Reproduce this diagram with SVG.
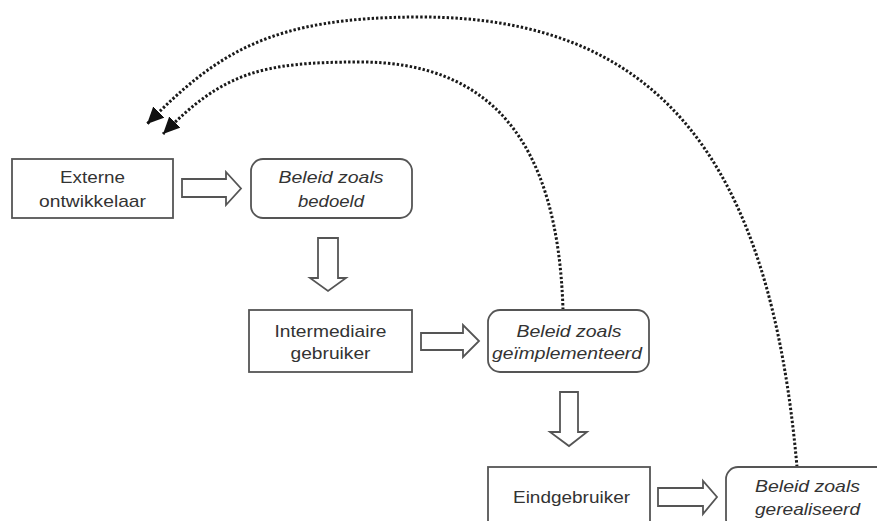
<svg xmlns="http://www.w3.org/2000/svg" width="877" height="521" viewBox="0 0 877 521">
<style>
.box{fill:#fff;stroke:#555;stroke-width:1.8}
.blk{fill:#fff;stroke:#555;stroke-width:1.8;stroke-linejoin:miter}
.t{font-family:"Liberation Sans",Arial,sans-serif;font-size:17px;fill:#333;text-anchor:middle}
.i{font-style:italic}
.dot{fill:none;stroke:#1a1a1a;stroke-width:3;stroke-dasharray:2.4 2}
</style>
<defs>
<marker id="ah" markerUnits="userSpaceOnUse" markerWidth="18" markerHeight="16" viewBox="0 0 16 14" refX="15" refY="7" orient="auto">
<path d="M0,0 L15,7 L0,14 Z" fill="#111"/>
</marker>
</defs>
<rect width="877" height="521" fill="#fff"/>
<g id="connectors">
<path class="dot" d="M797,467 C770,160 660,17 420,17 C270,17 217,53 147,124" marker-end="url(#ah)"/>
<path class="dot" d="M563,310 C558,140 490,62 360,62 C260,62 223,73 163,134" marker-end="url(#ah)"/>
<path id="arrow1" class="blk" d="M182,179 H226 V172 L241,188.5 L226,205 V197 H182 Z"/>
<path id="arrow2" class="blk" d="M421,333 H463 V325 L479,341 L463,357 V350 H421 Z"/>
<path id="arrow3" class="blk" d="M658,488 H703 V481 L717,497 L703,514 V506 H658 Z"/>
<path id="down1" class="blk" d="M318,238 H338 V278 H346 L328,291 L310,278 H318 Z"/>
<path id="down2" class="blk" d="M560,392 H578 V432 H587 L569,446 L550,432 H560 Z"/>
</g>
<g id="externe">
<rect class="box" x="12" y="159" width="161" height="59"/>
<text class="t" x="92.5" y="183" textLength="65" lengthAdjust="spacingAndGlyphs">Externe</text>
<text class="t" x="92.5" y="207" textLength="107" lengthAdjust="spacingAndGlyphs">ontwikkelaar</text>
</g>
<g id="bedoeld">
<rect class="box" x="251" y="159" width="161" height="59" rx="12"/>
<text class="t i" x="331" y="183" textLength="105" lengthAdjust="spacingAndGlyphs">Beleid zoals</text>
<text class="t i" x="331" y="207" textLength="66" lengthAdjust="spacingAndGlyphs">bedoeld</text>
</g>
<g id="intermediaire">
<rect class="box" x="249" y="310" width="163" height="62"/>
<text class="t" x="330.5" y="337" textLength="112" lengthAdjust="spacingAndGlyphs">Intermediaire</text>
<text class="t" x="330.5" y="359" textLength="80" lengthAdjust="spacingAndGlyphs">gebruiker</text>
</g>
<g id="geimplementeerd">
<rect class="box" x="488" y="310" width="161" height="62" rx="12"/>
<text class="t i" x="569" y="337" textLength="105" lengthAdjust="spacingAndGlyphs">Beleid zoals</text>
<text class="t i" x="567" y="359" textLength="150" lengthAdjust="spacingAndGlyphs">geïmplementeerd</text>
</g>
<g id="eindgebruiker">
<rect class="box" x="488" y="467" width="162" height="64"/>
<text class="t" x="571.5" y="503" textLength="117" lengthAdjust="spacingAndGlyphs">Eindgebruiker</text>
</g>
<g id="gerealiseerd">
<rect class="box" x="726" y="467" width="163" height="64" rx="12"/>
<text class="t i" x="807.5" y="492" textLength="105" lengthAdjust="spacingAndGlyphs">Beleid zoals</text>
<text class="t i" x="807.5" y="515" textLength="105" lengthAdjust="spacingAndGlyphs">gerealiseerd</text>
</g>
</svg>
